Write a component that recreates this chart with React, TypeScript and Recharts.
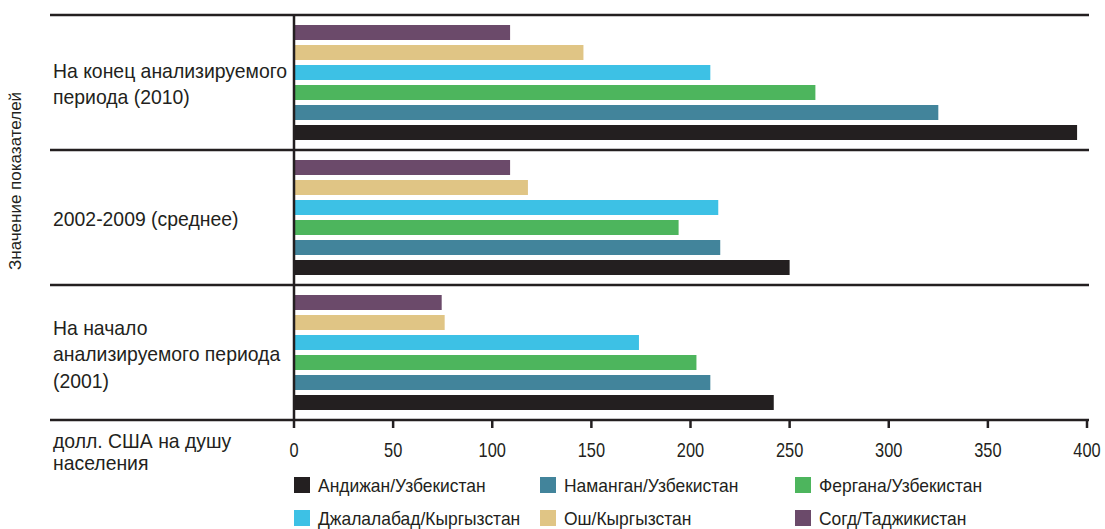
import { Bar, BarChart, XAxis, YAxis } from "recharts";

const FONT = "'Liberation Sans', Arial, sans-serif";
const INK = "#231f20";

// periods, top to bottom
const periods = ["2010", "2002-2009", "2001"];
const periodLabels = [
  ["На конец анализируемого", "периода (2010)"],
  ["2002-2009 (среднее)"],
  ["На начало", "анализируемого периода", "(2001)"],
];

// долл. США на душу населения
const sogd = [109, 109, 74.5];
const osh = [146, 118, 76];
const jalalabad = [210, 214, 174];
const fergana = [263, 194, 203];
const namangan = [325, 215, 210];
const andijan = [395, 250, 242];

const xTicks = [0, 50, 100, 150, 200, 250, 300, 350, 400];

// drawing order inside a band (top to bottom)
const series = [
  { key: "sogd", name: "Согд/Таджикистан", color: "#6b4a6a", values: sogd },
  { key: "osh", name: "Ош/Кыргызстан", color: "#e0c585", values: osh },
  { key: "jalalabad", name: "Джалалабад/Кыргызстан", color: "#3dc1e5", values: jalalabad },
  { key: "fergana", name: "Фергана/Узбекистан", color: "#4db55d", values: fergana },
  { key: "namangan", name: "Наманган/Узбекистан", color: "#42849b", values: namangan },
  { key: "andijan", name: "Андижан/Узбекистан", color: INK, values: andijan },
];

const legendOrder = ["andijan", "namangan", "fergana", "jalalabad", "osh", "sogd"];

const data = periods.map((p, i) => {
  const row: Record<string, string | number> = { period: p };
  series.forEach((s) => (row[s.key] = s.values[i]));
  return row;
});

const W = 1105;
const H = 529;
const TOP = 15;
const PLOT_BOTTOM = 420;
const BAND = (PLOT_BOTTOM - TOP) / periods.length;

// narrow-looking text: Liberation Sans squeezed horizontally
function T({ x, y, size, sx, anchor = "start", children }: any) {
  return (
    <text
      transform={`translate(${x},${y}) scale(${sx},1)`}
      fontSize={size}
      fontFamily={FONT}
      textAnchor={anchor}
      fill={INK}
    >
      {children}
    </text>
  );
}

function PeriodTick(props: any) {
  const { y, index } = props;
  const lines = periodLabels[index] || [];
  const n = lines.length;
  return (
    <g>
      <line x1={50} x2={1089} y1={y - BAND / 2} y2={y - BAND / 2} stroke={INK} strokeWidth={2.5} />
      {index === periods.length - 1 && (
        <line x1={50} x2={1089} y1={y + BAND / 2} y2={y + BAND / 2} stroke={INK} strokeWidth={2.5} />
      )}
      {lines.map((t, i) => (
        <T key={i} x={53} y={y + (i - (n - 1) / 2) * 26.5 + 8.5} size={20} sx={0.97}>
          {t}
        </T>
      ))}
    </g>
  );
}

function ValueTick(props: any) {
  const { x, y, payload } = props;
  return (
    <T x={x} y={y + 27} size={20} sx={0.82} anchor="middle">
      {payload.value}
    </T>
  );
}

export default function App() {
  const byKey = Object.fromEntries(series.map((s) => [s.key, s]));
  const legendX = [294, 540, 795];
  return (
    <div style={{ position: "absolute", left: 0, top: 0, width: W, height: H, background: "#fff" }}>
      <BarChart
        width={W}
        height={H}
        data={data}
        layout="vertical"
        margin={{ top: TOP, right: 18, bottom: 0, left: 0 }}
        barSize={15}
        barGap={5}
      >
        <XAxis
          type="number"
          domain={[0, 400]}
          ticks={xTicks}
          height={H - PLOT_BOTTOM}
          axisLine={false}
          tickLine={{ stroke: INK, strokeWidth: 2.5 }}
          tickSize={8}
          tick={<ValueTick />}
          interval={0}
        />
        <YAxis
          type="category"
          dataKey="period"
          width={294}
          axisLine={{ stroke: INK, strokeWidth: 2.5 }}
          tickLine={false}
          tick={<PeriodTick />}
          interval={0}
        />
        {series.map((s) => (
          <Bar key={s.key} dataKey={s.key} name={s.name} fill={s.color} isAnimationActive={false} />
        ))}
      </BarChart>
      <svg width={W} height={H} style={{ position: "absolute", left: 0, top: 0, pointerEvents: "none" }}>
        <text
          transform="translate(21,270) rotate(-90)"
          fontSize={17}
          fontFamily={FONT}
          fill={INK}
        >
          Значение показателей
        </text>
        <T x={53} y={448} size={20} sx={0.97}>
          долл. США на душу
        </T>
        <T x={53} y={470} size={20} sx={0.97}>
          населения
        </T>
        {legendOrder.map((k, i) => {
          const s = byKey[k];
          const col = i % 3;
          const row = Math.floor(i / 3);
          const lx = legendX[col];
          const ly = 477 + row * 33;
          return (
            <g key={k}>
              <rect x={lx} y={ly} width={16} height={16} fill={s.color} />
              <T x={lx + 24} y={ly + 15} size={18} sx={0.97}>
                {s.name}
              </T>
            </g>
          );
        })}
      </svg>
    </div>
  );
}
